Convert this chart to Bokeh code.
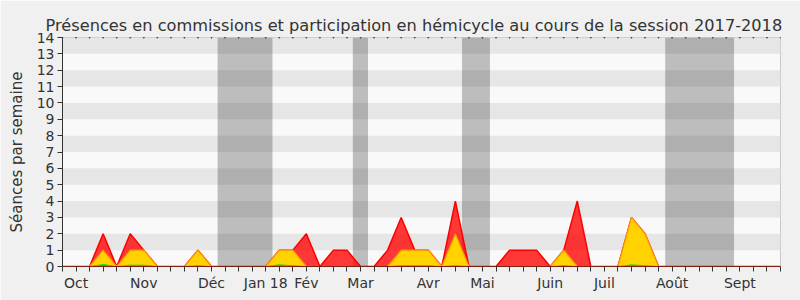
from bokeh.plotting import figure
from bokeh.models import Range1d, FixedTicker
from bokeh.embed import file_html
from bokeh.resources import INLINE

# Week index 0..53 (session 2017-2018)
weeks = list(range(54))
# Présences en hémicycle (red), commission (yellow), interventions (green)
red = [0, 0, 0, 2, 0, 2, 1, 0, 0, 0,
       1, 0, 0, 0, 0, 0, 1, 1, 2, 0,
       1, 1, 0, 0, 1, 3, 1, 1, 0, 4,
       0, 0, 0, 1, 1, 1, 0, 1, 4, 0,
       0, 0, 3, 2, 0, 0, 0, 0, 0, 0,
       0, 0, 0, 0]
yellow = [0, 0, 0, 1, 0, 1, 1, 0, 0, 0,
          1, 0, 0, 0, 0, 0, 1, 1, 0, 0,
          0, 0, 0, 0, 0, 1, 1, 1, 0, 2,
          0, 0, 0, 0, 0, 0, 0, 1, 0, 0,
          0, 0, 3, 2, 0, 0, 0, 0, 0, 0,
          0, 0, 0, 0]
green = [0, 0, 0, 0.12, 0, 0.08, 0.08, 0, 0, 0,
         0.05, 0, 0, 0, 0, 0, 0.1, 0.05, 0, 0,
         0, 0, 0, 0, 0, 0.05, 0.05, 0.05, 0, 0.05,
         0, 0, 0, 0, 0, 0, 0, 0.05, 0, 0,
         0, 0, 0.1, 0.05, 0, 0, 0, 0, 0, 0,
         0, 0, 0, 0]

# Vacation periods (in week units)
vac_start = [11.45, 21.43, 29.49, 44.49]
vac_end = [15.5, 22.55, 31.55, 49.57]

# Month labels at week positions
month_weeks = [1, 6, 11, 15, 18, 22, 27, 31, 36, 40, 45, 50]
month_labels = ["Oct", "Nov", "Déc", "Jan 18", "Fév", "Mar", "Avr", "Mai", "Juin", "Juil", "Août", "Sept"]

y_max = 14
font = "DejaVu Sans"
txt = "#333333"

p = figure(width=800, height=300, output_backend="svg", toolbar_location=None,
           x_range=Range1d(0, 53), y_range=Range1d(0, y_max),
           min_border_left=62, min_border_right=20, min_border_top=37, min_border_bottom=34,
           background_fill_color="#f9f9f9", border_fill_color="#f0f0f0")

p.title.text = "Présences en commissions et participation en hémicycle au cours de la session 2017-2018"
p.title.text_font = font
p.title.text_font_size = "16.2px"
p.title.text_font_style = "normal"
p.title.text_color = txt
p.title.align = "left"
p.title.offset = -17
p.title.standoff = 6

p.xgrid.visible = False
p.ygrid.visible = False
p.outline_line_color = "#c8c8c8"

# alternating horizontal bands
band_bottoms = [b for b in range(1, y_max, 2)]
p.quad(left=0, right=53, bottom=band_bottoms, top=[b + 1 for b in band_bottoms],
       fill_color="#e6e6e6", line_color=None)

# vacation bands
p.quad(left=vac_start, right=vac_end, bottom=0, top=y_max,
       fill_color="#000000", fill_alpha=0.24, line_color=None)

# areas
p.varea(x=weeks, y1=0, y2=red, fill_color="#ff0000", fill_alpha=0.78)
p.line(weeks, red, line_color="#ff0000", line_width=1.5)
p.varea(x=weeks, y1=0, y2=yellow, fill_color="#ffd200", fill_alpha=1.0)
p.line(weeks, yellow, line_color="#ff9a00", line_width=1.2)
p.varea(x=weeks, y1=0, y2=green, fill_color="#00cc00", fill_alpha=1.0)
p.line(weeks, green, line_color="#22dd00", line_width=1)

# top tick dots
p.scatter(x=weeks, y=[y_max] * len(weeks), size=1, color="#333333", marker="square")

# axes
xa = p.xaxis[0]
xa.ticker = FixedTicker(ticks=weeks)
xa.major_label_overrides = {w: "" for w in weeks}
xa.major_label_overrides.update({w: l for w, l in zip(month_weeks, month_labels)})
xa.major_label_text_font = font
xa.major_label_text_font_size = "14px"
xa.major_label_text_color = txt
xa.major_tick_out = 5
xa.major_tick_in = 0
xa.minor_tick_line_color = None
xa.axis_line_color = "#802010"
xa.major_tick_line_color = "#333333"
xa.major_label_standoff = 3

ya = p.yaxis[0]
ya.ticker = FixedTicker(ticks=list(range(0, y_max + 1)))
ya.major_label_text_font = font
ya.major_label_text_font_size = "14px"
ya.major_label_text_color = txt
ya.major_tick_out = 5
ya.major_tick_in = 0
ya.minor_tick_line_color = None
ya.axis_line_color = "#333333"
ya.major_tick_line_color = "#333333"
ya.major_label_standoff = 3
ya.axis_label = "Séances par semaine"
ya.axis_label_text_font = font
ya.axis_label_text_font_size = "15px"
ya.axis_label_text_font_style = "normal"
ya.axis_label_text_color = txt
ya.axis_label_standoff = 8

open("out.html", "w").write(file_html(p, INLINE))
